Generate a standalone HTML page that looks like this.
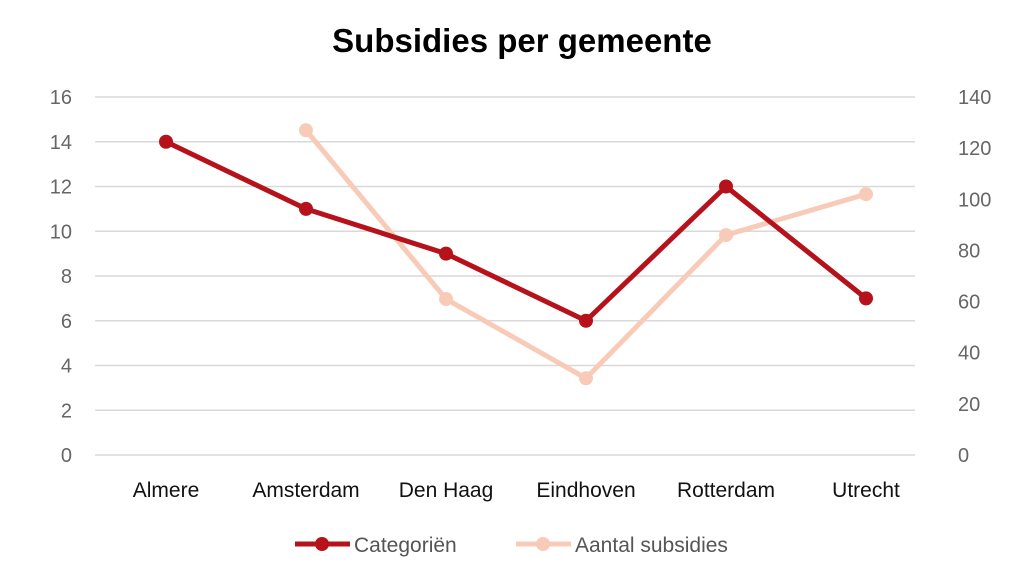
<!DOCTYPE html>
<html><head><meta charset="utf-8"><style>
body{margin:0;background:#fff;}
svg text{font-family:"Liberation Sans",sans-serif;}
</style></head><body>
<svg id="chart" width="1030" height="580" viewBox="0 0 1030 580" xmlns="http://www.w3.org/2000/svg">
<text x="522" y="52" text-anchor="middle" font-size="33" font-weight="bold" fill="#000">Subsidies per gemeente</text>
<g id="grid"></g><g id="series"></g>
<g>
 <g>
  <line x1="295" y1="544" x2="350" y2="544" stroke="#b5121b" stroke-width="5"/>
  <circle cx="322" cy="544" r="7" fill="#b5121b"/>
  <text x="354" y="552" font-size="21" fill="#555">Categoriën</text>
 </g>
 <g>
  <line x1="516" y1="544" x2="571" y2="544" stroke="#f8cbb8" stroke-width="5"/>
  <circle cx="543" cy="544" r="7" fill="#f8cbb8"/>
  <text x="575" y="552" font-size="21" fill="#555">Aantal subsidies</text>
 </g>
</g>
</svg>
<script>
const categories=["Almere","Amsterdam","Den Haag","Eindhoven","Rotterdam","Utrecht"];
const categorien=[14,11,9,6,12,7];
const aantalSubsidies=[null,127,61,30,86,102];
const leftTicks=[0,2,4,6,8,10,12,14,16];
const rightTicks=[0,20,40,60,80,100,120,140];
const NS="http://www.w3.org/2000/svg";
const x0=96,x1=936,yB=455,yT=97;
const xs=i=>x0+(x1-x0)/categories.length*(i+0.5);
const yL=v=>yB-(v/16)*(yB-yT);
const yR=v=>yB-(v/140)*(yB-yT);
function mk(t,a,p){const e=document.createElementNS(NS,t);for(const k in a)e.setAttribute(k,a[k]);p.appendChild(e);return e;}
const grid=document.getElementById('grid'),ser=document.getElementById('series');
leftTicks.forEach(v=>{
 const l=mk('line',{x1:95,x2:915,y1:yL(v),y2:yL(v),stroke:'#d9d9d9','stroke-width':1.5},grid);
 
 
 const t=mk('text',{x:72,y:yL(v)+7,'text-anchor':'end','font-size':20,fill:'#666'},grid);t.textContent=v;
 
 
});
rightTicks.forEach(v=>{
 const t=mk('text',{x:958,y:yR(v)+7,'font-size':20,fill:'#666'},grid);t.textContent=v;
 
 
});
categories.forEach((c,i)=>{
 const t=mk('text',{x:xs(i),y:497,'text-anchor':'middle','font-size':21,fill:'#111'},grid);t.textContent=c;
 
 
});
function draw(vals,yf,col,name){
 const pts=[];vals.forEach((v,i)=>{if(v!=null)pts.push([xs(i),yf(v)]);});
 const p=mk('polyline',{points:pts.map(q=>q.join(',')).join(' '),fill:'none',stroke:col,'stroke-width':5,'stroke-linejoin':'round'},ser);
 
 
 pts.forEach(q=>{const c=mk('circle',{cx:q[0],cy:q[1],r:7,fill:col},ser);
  
  });
}
draw(aantalSubsidies,yR,'#f8cbb8','aantal-subsidies');
draw(categorien,yL,'#b5121b','categorien');
</script>
</body></html>
